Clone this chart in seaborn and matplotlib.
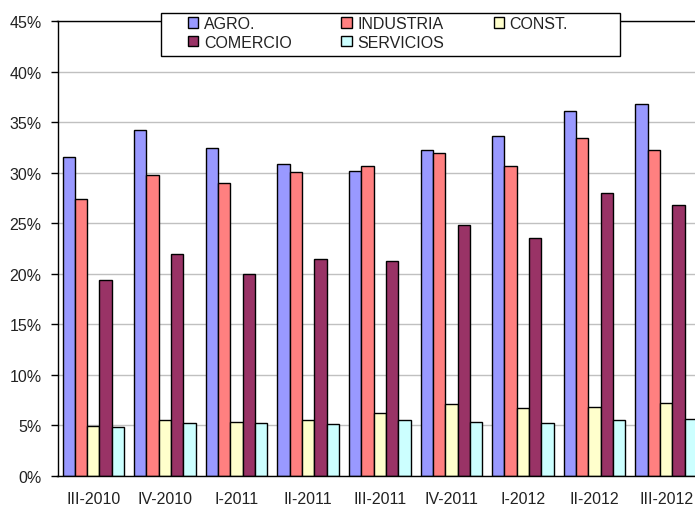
import numpy as np
import pandas as pd
import matplotlib
matplotlib.use("Agg")
import matplotlib.pyplot as plt
from matplotlib.patches import Patch, Rectangle
import seaborn as sns

# ── Data ──────────────────────────────────────────────────────────────────────

periods = ["III-2010", "IV-2010", "I-2011", "II-2011", "III-2011",
           "IV-2011", "I-2012", "II-2012", "III-2012"]
sectors = ["AGRO.", "INDUSTRIA", "CONST.", "COMERCIO", "SERVICIOS"]

agro      = [31.6, 34.25, 32.5, 30.9, 30.15, 32.25, 33.6, 36.1, 36.8]
industria = [27.45, 29.75, 28.95, 30.1, 30.65, 32.0, 30.65, 33.5, 32.25]
const     = [4.97, 5.5, 5.37, 5.5, 6.2, 7.1, 6.7, 6.85, 7.25]
comercio  = [19.35, 22.0, 20.0, 21.45, 21.3, 24.8, 23.6, 28.0, 26.8]
servicios = [4.85, 5.27, 5.27, 5.1, 5.5, 5.37, 5.25, 5.5, 5.6]

colors = ["#9999FF", "#FF8080", "#FFFFCC", "#993366", "#CCFFFF"]

series = dict(zip(sectors, [agro, industria, const, comercio, servicios]))
df = pd.DataFrame([
    {"periodo": p, "sector": s, "valor": v}
    for s, vals in series.items()
    for p, v in zip(periods, vals)
])

# ── Style ─────────────────────────────────────────────────────────────────────

sns.set_theme(style="white")
plt.rcParams["font.family"] = ["Liberation Sans", "DejaVu Sans"]
FS = 11.5

fig = plt.figure(figsize=(6.95, 5.06), dpi=100)
ax = fig.add_axes([57.5 / 695, 29 / 506, 644.5 / 695, 454.7 / 506])

sns.barplot(data=df, x="periodo", y="valor", hue="sector",
            order=periods, hue_order=sectors, palette=colors,
            width=0.86, gap=0, saturation=1, edgecolor="black",
            linewidth=1, legend=False, errorbar=None, ax=ax)

ax.set_xlim(-0.5, len(periods) - 0.5)
ax.set_ylim(0, 45)
ax.set_yticks(np.arange(0, 46, 5))
ax.set_yticklabels([f"{v}%" for v in range(0, 46, 5)], fontsize=FS, color="#222222")
ax.set_xticklabels(periods, fontsize=FS, color="#222222")
ax.set_xlabel("")
ax.set_ylabel("")

ax.set_xticks(np.arange(-0.5, len(periods), 1), minor=True)
ax.tick_params(axis="x", which="major", length=0, pad=11)
ax.tick_params(axis="x", which="minor", length=5, width=1, color="black", direction="out")
ax.tick_params(axis="y", which="major", length=5, width=1, color="black",
               direction="out", left=True, pad=6.5)

ax.yaxis.grid(True, color="#C0C0C0", linewidth=1)
ax.xaxis.grid(False)
ax.set_axisbelow(True)
for sp in ax.spines.values():
    sp.set_color("black")
    sp.set_linewidth(1)

# ── Legend (Excel-style box) ──────────────────────────────────────────────────

handles = [Patch(facecolor=c, edgecolor="black", linewidth=1) for c in colors]
order = [0, 3, 1, 4, 2]
fig.patches.append(Rectangle((161 / 695, 1 - 57 / 506), 459 / 695, 43 / 506,
                             transform=fig.transFigure, facecolor="white",
                             edgecolor="black", linewidth=1, zorder=2))
leg = fig.legend([handles[i] for i in order], [sectors[i] for i in order],
                 ncol=3, loc="upper left",
                 bbox_to_anchor=(188 / 695, 1 - 17 / 506),
                 bbox_transform=fig.transFigure, frameon=False, fontsize=FS,
                 handlelength=0.65, handleheight=0.65, handletextpad=0.35,
                 columnspacing=3.1, labelspacing=0.22, borderpad=0,
                 borderaxespad=0)
leg.set_zorder(3)
for t in leg.get_texts():
    t.set_color("#222222")

fig.savefig("out.png", dpi=100)
